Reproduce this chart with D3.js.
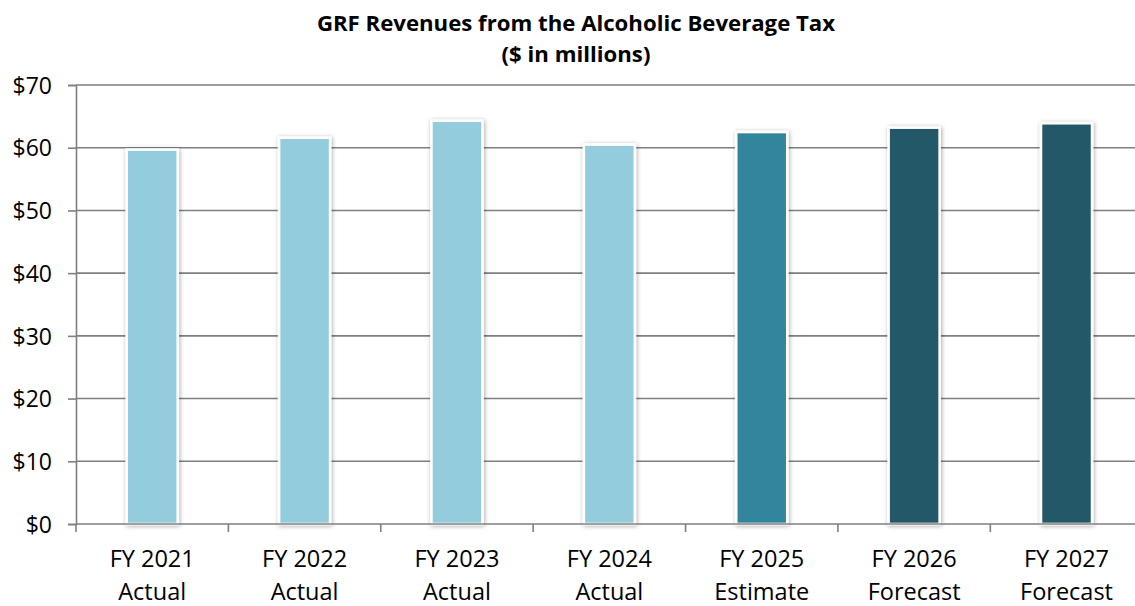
<!DOCTYPE html>
<html>
<head>
<meta charset="utf-8">
<script src="https://cdn.jsdelivr.net/npm/d3@7"></script>
<style>
  html, body { margin: 0; padding: 0; background: #ffffff; }
  svg { display: block; }
  text { font-family: "Open Sans", "Noto Sans", sans-serif; fill: #000; }
</style>
</head>
<body>
<svg id="chart" width="1135" height="606"></svg>
<script>
// Fiscal years and their status line
const years = ["FY 2021", "FY 2022", "FY 2023", "FY 2024", "FY 2025", "FY 2026", "FY 2027"];
const status = ["Actual", "Actual", "Actual", "Actual", "Estimate", "Forecast", "Forecast"];
// GRF alcoholic beverage tax revenue, $ millions
const revenue = [59.7, 61.6, 64.3, 60.5, 62.5, 63.2, 63.9];
// Bar colour per status
const statusColors = { "Actual": "#93cddd", "Estimate": "#31859c", "Forecast": "#215968" };
// Value axis ticks
const yTicks = [0, 10, 20, 30, 40, 50, 60, 70];
const titleLines = ["GRF Revenues from the Alcoholic Beverage Tax", "($ in millions)"];

const svg = d3.select("#chart");
const plot = { left: 76, right: 1142.7, top: 85, bottom: 524 };

const x = d3.scaleBand()
  .domain(years)
  .range([plot.left, plot.right])
  .paddingInner(0.665)
  .paddingOuter(0.3325);

const y = d3.scaleLinear().domain([0, 70]).range([plot.bottom, plot.top]);

// Soft shadow behind the bars
const defs = svg.append("defs");
const f = defs.append("filter").attr("id", "barShadow")
  .attr("x", "-30%").attr("y", "-10%").attr("width", "160%").attr("height", "120%");
f.append("feDropShadow")
  .attr("dx", 0.8).attr("dy", 0.8).attr("stdDeviation", 2.2)
  .attr("flood-color", "#000").attr("flood-opacity", 0.35);

// Title
svg.append("g").selectAll("text")
  .data(titleLines)
  .join("text")
  .attr("x", 576)
  .attr("y", (d, i) => 31 + i * 30.5)
  .attr("text-anchor", "middle")
  .attr("font-weight", "bold")
  .attr("font-size", 22.2)
  .text(d => d);

// Horizontal gridlines
svg.append("g").selectAll("line")
  .data(yTicks.filter(t => t > 0))
  .join("line")
  .attr("x1", plot.left).attr("x2", plot.right)
  .attr("y1", d => y(d)).attr("y2", d => y(d))
  .attr("stroke", "#7f7f7f").attr("stroke-width", 1.6);

// Value axis
const yAxis = svg.append("g")
  .attr("transform", `translate(${plot.left},0)`)
  .call(d3.axisLeft(y).tickValues(yTicks).tickSize(8).tickPadding(16)
    .tickFormat(d => "$" + d));
yAxis.select(".domain").attr("stroke", "#7f7f7f").attr("stroke-width", 1.6);
yAxis.selectAll(".tick line").attr("stroke", "#7f7f7f").attr("stroke-width", 1.6);
yAxis.selectAll(".tick text")
  .attr("font-size", 23)
  .attr("font-family", "'Open Sans', sans-serif")
  .attr("fill", "#000")
  .attr("dy", "0.36em");

// Bars
svg.append("g").selectAll("rect")
  .data(revenue)
  .join("rect")
  .attr("x", (d, i) => x(years[i]))
  .attr("y", d => y(d))
  .attr("width", x.bandwidth())
  .attr("height", d => y(0) - y(d))
  .attr("fill", (d, i) => statusColors[status[i]])
  .attr("stroke", "#ffffff")
  .attr("stroke-width", 2.6)
  .attr("filter", "url(#barShadow)");

// Category axis with boundary ticks
const boundaries = d3.range(years.length).map(i => x.range()[0] + i * x.step());
const xg = svg.append("g");
xg.append("line")
  .attr("x1", plot.left).attr("x2", plot.right)
  .attr("y1", y(0)).attr("y2", y(0))
  .attr("stroke", "#7f7f7f").attr("stroke-width", 1.6);
xg.selectAll("line.tick")
  .data(boundaries)
  .join("line")
  .attr("class", "tick")
  .attr("x1", d => d).attr("x2", d => d)
  .attr("y1", y(0)).attr("y2", y(0) + 8)
  .attr("stroke", "#7f7f7f").attr("stroke-width", 1.6);

const labels = xg.selectAll("text")
  .data(years)
  .join("text")
  .attr("x", d => x(d) + x.bandwidth() / 2)
  .attr("y", 567)
  .attr("text-anchor", "middle")
  .attr("font-size", 23.5);
labels.append("tspan").attr("x", d => x(d) + x.bandwidth() / 2).text(d => d);
labels.append("tspan")
  .attr("x", d => x(d) + x.bandwidth() / 2)
  .attr("dy", 33)
  .text((d, i) => status[i]);
</script>
</body>
</html>
